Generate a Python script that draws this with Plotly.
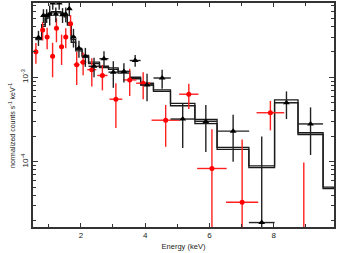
import plotly.graph_objects as go

# ---------------- data ----------------
# black dataset (triangles)
black_e = [0.68, 0.835, 0.935, 1.03, 1.125, 1.22, 1.325, 1.43, 1.53, 1.64, 1.77, 1.94, 2.14,
           2.41, 2.72, 3.01, 3.34, 3.69, 4.06, 4.53, 5.17, 5.89, 6.74, 7.63, 8.40, 9.15]
black_de = [0.10, 0.055, 0.045, 0.05, 0.045, 0.05, 0.055, 0.05, 0.05, 0.06, 0.07, 0.10, 0.10,
            0.17, 0.14, 0.15, 0.18, 0.17, 0.20, 0.27, 0.38, 0.345, 0.50, 0.40, 0.365, 0.39]
black_y = [2.95e-3, 5.4e-3, 5.4e-3, 5.6e-3, 7.6e-3, 5.6e-3, 7.6e-3, 5.5e-3, 5.6e-3, 6.5e-3,
           3.0e-3, 2.2e-3, 1.78e-3, 1.35e-3, 1.66e-3, 1.15e-3, 1.17e-3, 1.58e-3, 0.81e-3,
           0.98e-3, 3.2e-4, 3.0e-4, 2.3e-4, 1.9e-5, 5.0e-4, 2.8e-4]
black_err = [0.6e-3, 1.0e-3, 1.0e-3, 1.5e-3, 1.3e-3, 1.1e-3, 1.3e-3, 1.1e-3, 1.1e-3, 1.2e-3,
             0.75e-3, 0.5e-3, 0.45e-3, 0.35e-3, 0.37e-3, 0.4e-3, 0.3e-3, 0.25e-3, 0.29e-3,
             0.25e-3, 1.75e-4, 1.7e-4, 1.3e-4, 1.8e-4, 1.8e-4, 1.6e-4]

# red dataset (circles)
red_e = [0.60, 0.81, 0.95, 1.12, 1.24, 1.40, 1.53, 1.68, 1.87, 2.07, 2.34, 2.67, 3.09, 3.52,
         3.94, 4.64, 5.36, 6.08, 7.02, 7.90, 8.94]
red_de = [0.05, 0.05, 0.05, 0.05, 0.05, 0.06, 0.06, 0.07, 0.09, 0.10, 0.14, 0.16, 0.20, 0.21,
          0.22, 0.44, 0.30, 0.46, 0.50, 0.43, 0.45]
red_y = [2.0e-3, 3.63e-3, 3.0e-3, 1.78e-3, 3.8e-3, 2.3e-3, 3.0e-3, 4.3e-3, 1.41e-3, 1.51e-3,
         1.23e-3, 1.05e-3, 0.55e-3, 0.93e-3, 0.85e-3, 3.1e-4, 6.3e-4, 8.3e-5, 3.3e-5, 3.8e-4,
         1.0e-5]
red_err = [0.55e-3, 0.9e-3, 0.85e-3, 0.78e-3, 1.2e-3, 0.9e-3, 0.8e-3, 1.15e-3, 0.6e-3, 0.45e-3,
           0.45e-3, 0.35e-3, 0.3e-3, 0.33e-3, 0.3e-3, 1.6e-4, 2.1e-4, 1.6e-4, 1.5e-4, 1.45e-4,
           0.88e-4]

# folded model (step), bin edges and values for each dataset
model_edges = [0.58, 0.78, 0.89, 0.98, 1.08, 1.17, 1.27, 1.38, 1.48, 1.58, 1.70, 1.84, 2.04,
               2.24, 2.58, 2.86, 3.16, 3.52, 3.86, 4.26, 4.79, 5.55, 6.24, 7.23, 8.03, 8.76,
               9.54, 10.3]
model_black = [2.95e-3, 4.2e-3, 5.2e-3, 5.75e-3, 6.0e-3, 6.0e-3, 6.0e-3, 5.75e-3, 5.5e-3,
               4.45e-3, 2.8e-3, 2.15e-3, 1.82e-3, 1.51e-3, 1.35e-3, 1.29e-3, 1.17e-3, 1.0e-3,
               0.85e-3, 0.71e-3, 4.9e-4, 3.16e-4, 1.48e-4, 0.89e-4, 5.4e-4, 2.2e-4, 5.0e-5]
model_red = [2.8e-3, 4.0e-3, 5.0e-3, 5.5e-3, 5.8e-3, 5.8e-3, 5.8e-3, 5.5e-3, 5.2e-3,
             4.15e-3, 2.6e-3, 2.05e-3, 1.74e-3, 1.45e-3, 1.3e-3, 1.24e-3, 1.12e-3, 0.96e-3,
             0.81e-3, 0.68e-3, 4.6e-4, 2.82e-4, 1.4e-4, 0.85e-4, 5.0e-4, 2.1e-4, 4.8e-5]

x_tick_vals = [2, 4, 6, 8]
x_tick_text = ["2", "4", "6", "8"]
y_tick_vals = [1e-4, 1e-3]
y_tick_text = ["10<sup>-4</sup>", "10<sup>-3</sup>"]
x_title = "Energy (keV)"
y_title = "normalized counts s<sup>-1</sup> keV<sup>-1</sup>"

# ---------------- figure ----------------
fig = go.Figure()

for mv in (model_black, model_red):
    fig.add_trace(go.Scatter(
        x=model_edges, y=list(mv) + [mv[-1]], mode="lines",
        line=dict(shape="hv", color="#1a1a1a", width=1.3),
        hoverinfo="skip", showlegend=False))

fig.add_trace(go.Scatter(
    x=red_e, y=red_y, mode="markers",
    marker=dict(symbol="circle", size=5, color="#ff0000"),
    error_x=dict(type="data", array=red_de, color="#ff2020", thickness=1.4, width=0),
    error_y=dict(type="data", array=red_err, color="#ff2020", thickness=1.4, width=0),
    showlegend=False))

fig.add_trace(go.Scatter(
    x=black_e, y=black_y, mode="markers",
    marker=dict(symbol="triangle-up", size=6, color="#000000"),
    error_x=dict(type="data", array=black_de, color="#222222", thickness=1.4, width=0),
    error_y=dict(type="data", array=black_err, color="#222222", thickness=1.4, width=0),
    showlegend=False))

minor_y = [m * 10.0 ** p for p in (-5, -4, -3) for m in range(2, 10)]

fig.update_layout(
    width=338, height=253,
    margin=dict(l=33, r=4, t=3, b=26),
    paper_bgcolor="white", plot_bgcolor="white",
    font=dict(family="Liberation Sans, Arial, sans-serif", size=8, color="#222222"),
    xaxis=dict(
        range=[0.51, 9.88], tickmode="array", tickvals=x_tick_vals, ticktext=x_tick_text,
        ticks="inside", ticklen=4, tickwidth=1.2, tickcolor="#333333",
        showline=True, linecolor="#333333", linewidth=1.5, mirror="allticks",
        showgrid=False, zeroline=False, automargin=False,
        minor=dict(tickmode="array", tickvals=[1, 3, 5, 7, 9], ticks="inside",
                   ticklen=3, tickwidth=1.2, tickcolor="#333333", showgrid=False),
        title=dict(text=x_title, font=dict(size=7.5), standoff=4),
        tickfont=dict(size=8),
    ),
    yaxis=dict(
        type="log", range=[-4.774, -2.12], tickmode="array",
        tickvals=y_tick_vals, ticktext=y_tick_text, tickangle=-90,
        ticks="inside", ticklen=5, tickwidth=1.2, tickcolor="#333333",
        showline=True, linecolor="#333333", linewidth=1.5, mirror="allticks",
        showgrid=False, zeroline=False, automargin=False,
        minor=dict(tickmode="array", tickvals=minor_y, ticks="inside",
                   ticklen=3, tickwidth=1.0, tickcolor="#333333", showgrid=False),
        tickfont=dict(size=8),
    ),
    annotations=[dict(
        text=y_title, xref="paper", yref="paper", x=-0.07, y=0.455,
        textangle=-90, showarrow=False, xanchor="center", yanchor="middle",
        font=dict(size=7, color="#222222"))],
)

fig.write_html("out.html", config={"displayModeBar": False})

# remove the browser's default page margin so the figure sits at the window origin
with open("out.html", "r", encoding="utf-8") as fh:
    html = fh.read()
html = html.replace("<head>", "<head><style>html,body{margin:0;padding:0;overflow:hidden;}</style>", 1)
with open("out.html", "w", encoding="utf-8") as fh:
    fh.write(html)
